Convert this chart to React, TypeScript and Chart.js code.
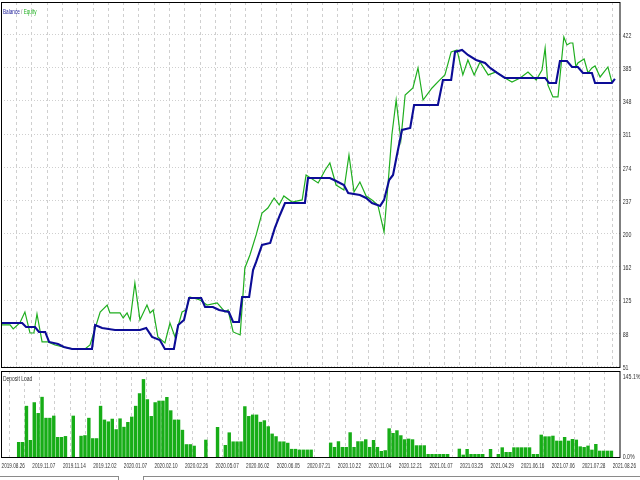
import React, { useEffect, useRef } from 'react';
import { Chart, registerables } from 'chart.js';

Chart.register(...registerables);

// ---------- data ----------
const dateLabels = [
  '2019.08.26', '2019.11.07', '2019.11.14', '2019.12.02', '2020.01.07', '2020.02.10', '2020.02.26',
  '2020.05.07', '2020.06.02', '2020.06.05', '2020.07.21', '2020.10.22', '2020.11.04', '2020.12.21',
  '2021.01.07', '2021.03.25', '2021.04.29', '2021.06.16', '2021.07.06', '2021.07.28', '2021.08.26',
];

const yTickValues = [51.6, 88.7, 125.8, 162.9, 200.0, 237.1, 274.2, 311.3, 348.4, 385.5, 422.6];
const loadTickValues = [145.1, 0];
const loadTickLabels = ['145.1%', '0.0%'];

// [deal index, value]
const balance: [number, number][] = [
  [-4.0, 100.2], [1.4, 100.2], [2.4, 95.7], [4.7, 95.7], [5.7, 90.2], [7.3, 90.2], [8.3, 79.0], [10.6, 76.7],
  [12.1, 73.4], [14.2, 71.2], [19.3, 71.2], [20.1, 98.0], [21.9, 94.6], [25.2, 92.4], [31.6, 92.4], [33.2, 94.6],
  [34.7, 84.6], [36.7, 81.2], [38.0, 71.2], [40.3, 71.2], [41.4, 98.0], [42.9, 103.6], [44.2, 128.1], [47.3, 128.1],
  [48.3, 118.1], [50.3, 118.1], [51.9, 114.7], [54.4, 112.5], [55.5, 101.3], [57.0, 101.3], [57.8, 129.3], [59.6, 129.3],
  [60.6, 159.4], [61.4, 168.4], [62.9, 187.4], [65.0, 189.6], [66.2, 206.4], [67.5, 220.9], [68.8, 234.3], [73.9, 234.3],
  [74.7, 262.2], [80.3, 262.2], [81.9, 258.9], [83.9, 254.4], [85.0, 245.5], [88.0, 243.3], [89.6, 239.9], [91.1, 234.3],
  [93.2, 231.0], [94.2, 237.7], [95.5, 260.0], [96.5, 265.6], [97.5, 288.0], [98.8, 315.9], [100.9, 318.1], [101.9, 343.8],
  [108.0, 343.8], [109.3, 371.8], [111.4, 371.8], [112.4, 403.1], [114.2, 405.3], [115.7, 399.7], [117.8, 394.1], [120.1, 390.8],
  [121.4, 385.2], [123.2, 379.6], [125.2, 374.0], [135.5, 374.0], [136.5, 368.4], [138.3, 368.4], [139.3, 393.0], [141.1, 393.0],
  [142.4, 386.3], [143.9, 386.3], [145.2, 379.6], [147.5, 379.6], [148.3, 368.4], [152.6, 368.4], [153.4, 372.9],
];

const equity: [number, number][] = [
  [-4.0, 98.0], [-1.7, 98.0], [-0.9, 93.5], [0.8, 100.2], [2.1, 112.5], [3.4, 89.0], [4.4, 89.0], [5.2, 110.3],
  [6.5, 79.0], [8.0, 79.0], [9.8, 75.6], [11.9, 73.4], [14.4, 71.2], [17.5, 71.2], [18.8, 75.6], [21.4, 112.5],
  [23.2, 120.3], [23.9, 111.4], [26.5, 111.4], [27.3, 105.8], [28.3, 111.4], [29.1, 103.6], [30.3, 144.9], [31.6, 103.6],
  [33.4, 120.3], [34.2, 111.4], [35.0, 114.7], [36.2, 84.6], [38.0, 77.9], [39.3, 100.2], [40.6, 84.6], [42.4, 112.5],
  [43.4, 114.7], [44.4, 129.3], [47.0, 125.9], [48.8, 120.3], [51.4, 122.6], [53.4, 112.5], [54.2, 114.7], [55.5, 90.2],
  [57.3, 86.8], [58.5, 161.7], [59.8, 176.2], [61.4, 198.6], [62.9, 223.1], [64.4, 228.7], [66.0, 239.9], [67.3, 232.1],
  [68.5, 242.1], [70.6, 235.4], [73.2, 237.7], [74.2, 265.6], [77.3, 256.7], [79.1, 271.2], [80.3, 279.0], [81.9, 254.4],
  [83.9, 248.8], [85.2, 288.0], [86.5, 246.6], [88.0, 257.8], [89.6, 242.1], [91.1, 237.7], [92.6, 232.1], [94.2, 201.9],
  [95.2, 254.4], [96.2, 310.3], [97.3, 349.4], [98.5, 304.7], [99.6, 355.0], [101.6, 362.8], [102.9, 385.2], [104.2, 349.4],
  [106.5, 362.8], [108.5, 371.8], [109.8, 377.4], [111.4, 403.1], [112.9, 405.3], [114.4, 377.4], [115.7, 394.1], [117.3, 377.4],
  [118.8, 391.9], [120.9, 377.4], [122.9, 380.7], [125.2, 374.0], [127.0, 369.5], [129.1, 374.0], [131.1, 380.7], [133.2, 371.8],
  [134.7, 382.9], [135.5, 407.5], [136.2, 366.2], [137.5, 352.8], [138.8, 352.8], [140.3, 419.8], [141.1, 410.9], [141.9, 413.1],
  [142.6, 413.1], [143.4, 386.3], [143.9, 390.8], [145.5, 395.2], [146.5, 379.6], [147.5, 385.2], [148.3, 387.4], [149.6, 375.1],
  [151.6, 386.3], [152.6, 369.5],
];

// deposit load per deal (%), deals 0..152
const depositLoad: number[] = [
  26.7, 26.7, 87, 30, 93, 75, 102, 67, 67, 70.6, 35, 35, 36.6, 0, 70.6, 0, 37, 38, 67, 33,
  33, 87, 64, 61, 65.5, 48, 66, 52, 60, 69, 87, 108, 131.6, 98, 70, 93, 95.6, 95.6, 101.7, 79.5,
  64, 64, 47, 23, 23, 20.5, 0, 0, 30.5, 0, 0, 51.7, 0, 21.7, 42.7, 27.6, 27.6, 27.6, 86.3, 70,
  72.4, 72.4, 60.3, 62.9, 52.9, 40.7, 36.3, 27.6, 27.6, 25.4, 15.2, 15.2, 14, 14, 14, 14, 0, 0, 0, 0,
  25.7, 18.4, 27.9, 18.4, 18.4, 42.9, 18.4, 27.9, 27.9, 31.2, 18.4, 30, 18.4, 11.7, 13, 49.5, 41.7, 46.2, 37.9, 31.2,
  32.3, 31.2, 21.2, 21.2, 21.2, 6.7, 6.7, 6.7, 6.7, 6.7, 6.7, 0, 0, 15.5, 5.6, 15, 6.7, 6.7, 6.7, 6.7,
  0, 15, 0, 6.7, 17.8, 10, 10, 17.8, 17.8, 17.8, 17.8, 17.8, 6.7, 6.7, 38.9, 36.1, 36.1, 37.2, 28.9, 28.9,
  35, 28.9, 31.7, 30.6, 19.4, 18.3, 20.6, 13.9, 23.4, 12.2, 12.2, 12.2, 12.2,
];

// ---------- scale settings ----------
const X_MIN = -4.03;
const X_MAX = 154.7;
const GRID_STEP = 3.918;
const Y_MIN = 49.9;
const Y_MAX = 458.9;
const LOAD_MAX = 145.1;

const FONT = '"Liberation Sans", Arial, sans-serif';
const GRID_COLOR = '#cfcfcf';

function drawText(
  ctx: CanvasRenderingContext2D, text: string, x: number, y: number,
  color: string, size: number, sx: number, align: CanvasTextAlign = 'left',
): number {
  ctx.save();
  ctx.font = `${size}px ${FONT}`;
  ctx.fillStyle = color;
  ctx.textBaseline = 'middle';
  ctx.textAlign = align;
  ctx.translate(x, y);
  ctx.scale(sx, 1);
  ctx.fillText(text, 0, 0);
  const w = ctx.measureText(text).width * sx;
  ctx.restore();
  return w;
}

function gridTicks(scale: any) {
  const ticks: { value: number }[] = [];
  for (let m = -1; m * GRID_STEP <= X_MAX; m++) ticks.push({ value: m * GRID_STEP });
  scale.ticks = ticks;
}

function frame(ctx: CanvasRenderingContext2D, ca: any) {
  ctx.save();
  ctx.strokeStyle = '#000';
  ctx.lineWidth = 1;
  ctx.strokeRect(ca.left + 0.5, ca.top + 0.5, ca.right - ca.left - 0.5, ca.bottom - ca.top - 1);
  ctx.restore();
}

const topPlugin = {
  id: 'topDecor',
  afterDraw(chart: any) {
    const { ctx, chartArea: ca, scales } = chart;
    frame(ctx, ca);
    const ys = scales.y;
    yTickValues.forEach((v) => {
      drawText(ctx, String(Math.floor(v)), ca.right + 2.7, ys.getPixelForValue(v) + 1.2, '#333', 7.5, 0.7);
    });
    let x = 3;
    x += drawText(ctx, 'Balance', x, ca.top + 9.5, '#1e1e9a', 7.5, 0.62);
    x += drawText(ctx, ' / ', x, ca.top + 9.5, '#777', 7.5, 0.62);
    drawText(ctx, 'Equity', x, ca.top + 9.5, '#22b022', 7.5, 0.62);
  },
};

const bottomPlugin = {
  id: 'bottomDecor',
  afterDraw(chart: any) {
    const { ctx, chartArea: ca, scales } = chart;
    frame(ctx, ca);
    drawText(ctx, 'Deposit Load', 3, ca.top + 8, '#333', 7.5, 0.66);
    loadTickValues.forEach((v, i) => {
      const y = scales.y.getPixelForValue(v) + (i === 0 ? 5.7 : -1);
      drawText(ctx, loadTickLabels[i], ca.right + 2.7, y, '#333', 7.5, 0.7);
    });
    const xs = scales.x;
    dateLabels.forEach((lab, i) => {
      const px = xs.getPixelForValue(i * 2 * GRID_STEP) - 3.5;
      drawText(ctx, lab, px, ca.bottom + 8, '#333', 8, 0.58, 'center');
    });
  },
};

const xGrid = {
  color: GRID_COLOR,
  drawTicks: false,
  lineWidth: 1,
};

export default function App() {
  const topRef = useRef<HTMLCanvasElement>(null);
  const botRef = useRef<HTMLCanvasElement>(null);

  useEffect(() => {
    const top = new Chart(topRef.current!, {
      type: 'line',
      data: {
        datasets: [
          {
            label: 'Balance',
            data: balance.map(([x, y]) => ({ x, y })),
            borderColor: '#0c0c96',
            borderWidth: 2.1,
            pointRadius: 0,
            tension: 0,
          },
          {
            label: 'Equity',
            data: equity.map(([x, y]) => ({ x, y })),
            borderColor: '#1fae1f',
            borderWidth: 1.2,
            pointRadius: 0,
            tension: 0,
          },
        ],
      },
      options: {
        animation: false,
        responsive: false,
        maintainAspectRatio: false,
        devicePixelRatio: 1,
        layout: { padding: { left: 1, top: 2, right: 0, bottom: 2 } },
        plugins: { legend: { display: false }, tooltip: { enabled: false } },
        scales: {
          x: {
            type: 'linear', min: X_MIN, max: X_MAX,
            afterBuildTicks: gridTicks,
            afterFit: (s: any) => { s.height = 0; },
            ticks: { display: false },
            grid: xGrid,
            border: { display: false, dash: [3, 3] },
          },
          y: {
            type: 'linear', position: 'right', min: Y_MIN, max: Y_MAX,
            afterBuildTicks: (s: any) => { s.ticks = yTickValues.map((v) => ({ value: v })); },
            afterFit: (s: any) => { s.width = 20; },
            ticks: { display: false },
            grid: { color: GRID_COLOR, drawTicks: false, lineWidth: 1 },
            border: { display: false, dash: [1, 2] },
          },
        },
      } as any,
      plugins: [topPlugin],
    });

    const bottom = new Chart(botRef.current!, {
      type: 'bar',
      data: {
        datasets: [
          {
            label: 'Deposit Load',
            data: depositLoad.map((v, k) => ({ x: k + 0.5, y: v })),
            backgroundColor: '#17ad17',
            borderWidth: 0,
            barPercentage: 0.88,
            categoryPercentage: 1,
          },
        ],
      },
      options: {
        animation: false,
        responsive: false,
        maintainAspectRatio: false,
        devicePixelRatio: 1,
        layout: { padding: { left: 1, top: 1, right: 0, bottom: 0 } },
        plugins: { legend: { display: false }, tooltip: { enabled: false } },
        scales: {
          x: {
            type: 'linear', min: X_MIN, max: X_MAX, offset: false,
            afterBuildTicks: gridTicks,
            afterFit: (s: any) => { s.height = 22; },
            ticks: { display: false },
            grid: xGrid,
            border: { display: false, dash: [3, 3] },
          },
          y: {
            type: 'linear', position: 'right', min: 0, max: LOAD_MAX,
            afterBuildTicks: (s: any) => { s.ticks = loadTickValues.map((v) => ({ value: v })); },
            afterFit: (s: any) => { s.width = 20; },
            ticks: { display: false },
            grid: { display: false },
            border: { display: false },
          },
        },
      } as any,
      plugins: [bottomPlugin],
    });

    return () => {
      top.destroy();
      bottom.destroy();
    };
  }, []);

  return (
    <div style={{ position: 'fixed', left: 0, top: 0, width: 640, height: 480, background: '#fff', overflow: 'hidden' }}>
      <canvas ref={topRef} width={640} height={370} style={{ position: 'absolute', left: 0, top: 0, width: 640, height: 370 }} />
      <canvas ref={botRef} width={640} height={110} style={{ position: 'absolute', left: 0, top: 370, width: 640, height: 110 }} />
      <div style={{ position: 'absolute', left: 0, top: 476, width: 118, height: 10, borderTop: '1px solid #8a8a8a', borderRight: '1px solid #8a8a8a' }} />
      <div style={{ position: 'absolute', left: 143, top: 476, width: 497, height: 10, borderTop: '1px solid #8a8a8a', borderLeft: '1px solid #8a8a8a' }} />
    </div>
  );
}
